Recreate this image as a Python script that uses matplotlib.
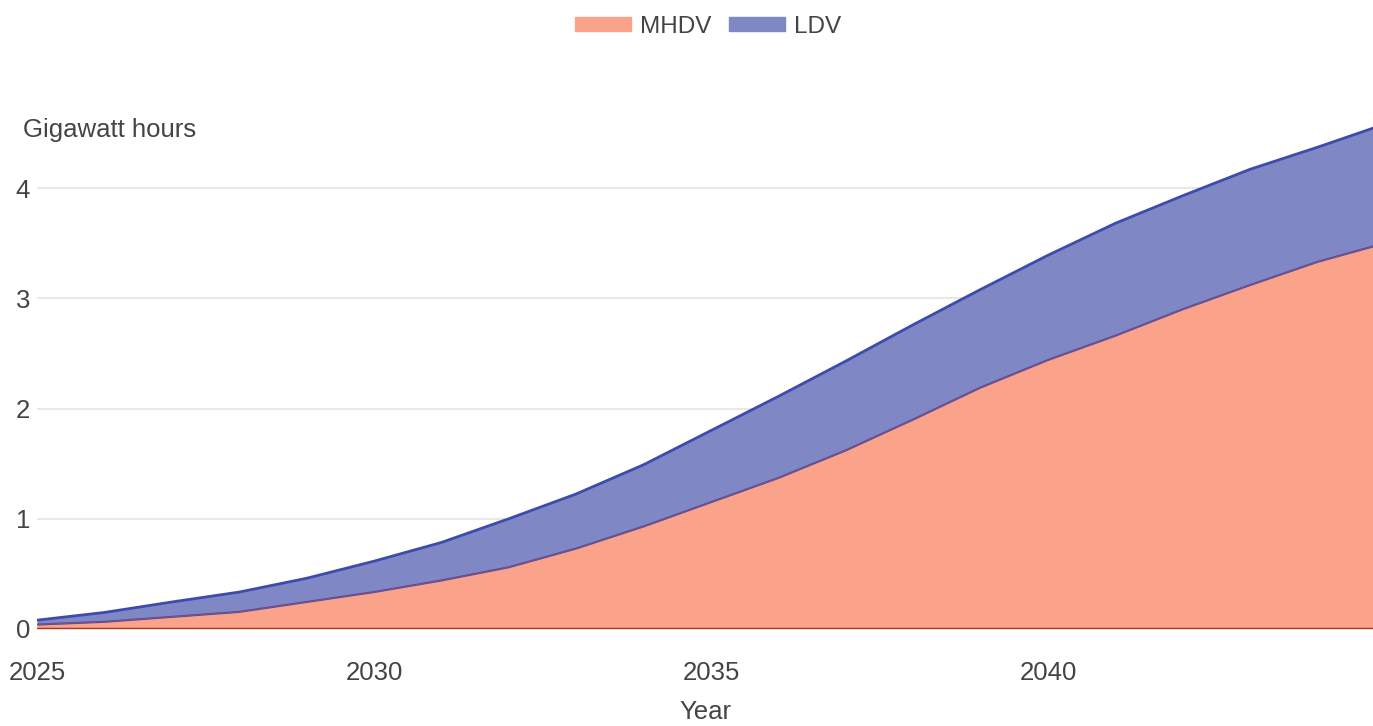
import matplotlib.pyplot as plt
from matplotlib.patches import Patch

# Energy demand by vehicle class (GWh), stacked
years = list(range(2025, 2046))
mhdv = [0.04, 0.065, 0.11, 0.155, 0.245, 0.335, 0.44, 0.56, 0.73, 0.93,
        1.15, 1.37, 1.62, 1.90, 2.19, 2.44, 2.66, 2.90, 3.12, 3.33, 3.50]
total = [0.08, 0.15, 0.245, 0.335, 0.46, 0.615, 0.785, 1.0, 1.225, 1.49,
         1.80, 2.11, 2.43, 2.76, 3.08, 3.39, 3.68, 3.93, 4.17, 4.37, 4.58]
ldv = [t - m for t, m in zip(total, mhdv)]

plt.rcParams['font.family'] = ['Liberation Sans', 'DejaVu Sans']
text_color = '#444444'
fs = 18.5

fig = plt.figure(figsize=(13.73, 7.26), dpi=100)
ax = fig.add_axes([37 / 1373, 97 / 726, 1 - 37 / 1373, 529 / 726])

mhdv_fill, mhdv_line = '#FBA28A', '#C0504D'
ldv_fill, ldv_line = '#7F88C4', '#3E4BAE'

ax.fill_between(years, 0, mhdv, color=mhdv_fill, lw=0, zorder=2)
ax.fill_between(years, mhdv, total, color=ldv_fill, lw=0, zorder=2)
ax.plot(years, total, color=ldv_line, lw=2, zorder=3)
ax.plot(years, mhdv, color=ldv_line, lw=1.5, zorder=3)
ax.plot(years, mhdv, color=mhdv_line, lw=0.8, alpha=0.6, zorder=3)
ax.plot(years, [0] * len(years), color='#9A3F2A', lw=2.5, zorder=3)

ax.set_xlim(2025, 2025 + 1336 / 67.4)
ax.set_ylim(0, 529 / 110.25)
ax.set_xticks([2025, 2030, 2035, 2040])
ax.set_yticks([0, 1, 2, 3, 4])
ax.tick_params(length=0, labelsize=fs, colors=text_color, pad=5)
ax.tick_params(axis='x', pad=23)
ax.grid(axis='y', color='#E8E8E8', lw=1.5, zorder=1)
ax.set_axisbelow(True)
for s in ax.spines.values():
    s.set_visible(False)

ax.set_xlabel('Year', fontsize=fs, color=text_color, labelpad=11)
fig.text(23 / 1373, 1 - 130 / 726, 'Gigawatt hours', fontsize=fs,
         color=text_color, va='center', ha='left')

handles = [Patch(facecolor=mhdv_fill, edgecolor=mhdv_fill),
           Patch(facecolor=ldv_fill, edgecolor=ldv_fill)]
fig.legend(handles, ['MHDV', 'LDV'], loc='center', bbox_to_anchor=(708 / 1373, 1 - 27 / 726),
           ncol=2, frameon=False, fontsize=17.5, handlelength=2.3, handleheight=0.5,
           columnspacing=0.75, handletextpad=0.35, labelcolor=text_color)

fig.savefig('out.png', dpi=100)
